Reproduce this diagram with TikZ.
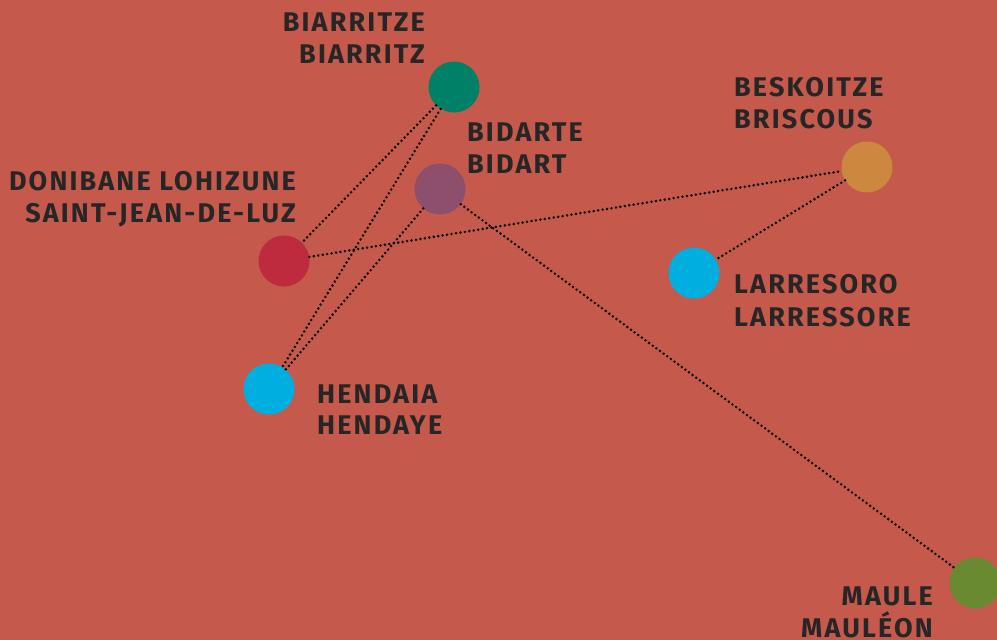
\documentclass[tikz,border=0pt]{standalone}
\usepackage{fontspec}
\newfontfamily\labfont[LetterSpace=8]{Fira Sans}
\definecolor{bgc}{RGB}{196,89,76}
\definecolor{txtc}{RGB}{38,38,38}
\definecolor{cgreen}{RGB}{0,128,102}
\definecolor{cpurple}{RGB}{142,79,108}
\definecolor{corange}{RGB}{205,136,63}
\definecolor{cred}{RGB}{190,43,62}
\definecolor{cblue}{RGB}{0,174,223}
\definecolor{colive}{RGB}{106,138,50}
\begin{document}
\begin{tikzpicture}[x=1pt,y=-1pt,
  town/.style={circle,minimum size=51pt,inner sep=0pt,draw=none},
  lab/.style={inner sep=0pt,text=txtc,font=\labfont\bfseries\fontsize{27}{27}\selectfont},
  labr/.style={lab,anchor=base east},
  labl/.style={lab,anchor=base west},
  dotline/.style={draw=black,line width=2.8pt,line cap=round,dash pattern=on 0pt off 4.5pt}]
\fill[bgc] (0,0) rectangle (997,640);
\useasboundingbox (0,0) rectangle (997,640);
\node[town,fill=cgreen] (biarritz) at (454,87) {};
\node[town,fill=cpurple] (bidart) at (440,189) {};
\node[town,fill=cred] (donibane) at (284,261) {};
\node[town,fill=cblue] (hendaia) at (269,389) {};
\node[town,fill=corange] (briscous) at (867,167) {};
\node[town,fill=cblue] (larresoro) at (694,273) {};
\node[town,fill=colive] (maule) at (975,583) {};
\draw[dotline] (biarritz) -- (donibane);
\draw[dotline] (biarritz) -- (hendaia);
\draw[dotline] (bidart) -- (hendaia);
\draw[dotline] (bidart) -- (maule);
\draw[dotline] (donibane) -- (briscous);
\draw[dotline] (briscous) -- (larresoro);
\node[labr] (biarritzA) at (425,31.7) {BIARRITZE};
\node[labr] (biarritzB) at (425,63.3) {BIARRITZ};
\node[labr] (donibaneA) at (296,190) {DONIBANE LOHIZUNE};
\node[labr] (donibaneB) at (296,222) {SAINT-JEAN-DE-LUZ};
\node[labl] (bidartA) at (467,141) {BIDARTE};
\node[labl] (bidartB) at (467,173) {BIDART};
\node[labl] (briscousA) at (734,96) {BESKOITZE};
\node[labl] (briscousB) at (734,128) {BRISCOUS};
\node[labl] (larresoroA) at (734,293) {LARRESORO};
\node[labl] (larresoroB) at (734,326) {LARRESSORE};
\node[labl] (hendaiaA) at (317,403) {HENDAIA};
\node[labl] (hendaiaB) at (317,434) {HENDAYE};
\node[labr] (mauleA) at (933,605) {MAULE};
\node[labr] (mauleB) at (933,637) {MAULÉON};
\end{tikzpicture}
\end{document}
